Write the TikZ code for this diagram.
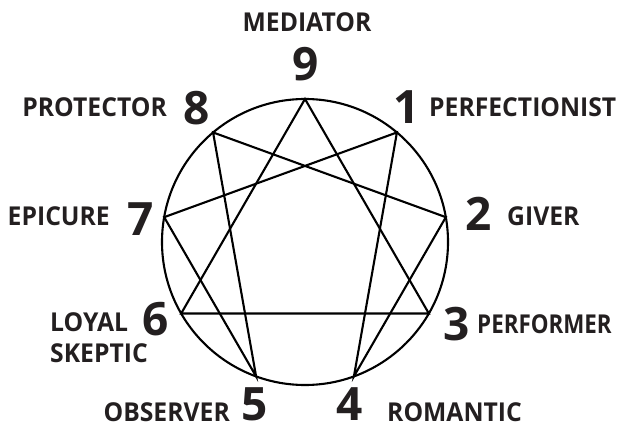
\documentclass[tikz,border=0pt]{standalone}
\usepackage{fontspec}
\usetikzlibrary{calc}
\setmainfont{Open Sans}
\newfontfamily\labfont[FakeStretch=0.95]{Open Sans}
\newfontfamily\labfontn[FakeStretch=0.86]{Open Sans}
\definecolor{ink}{HTML}{231F20}
\begin{document}
\begin{tikzpicture}[x=1pt,y=-1pt,
  digit/.style={font=\fontsize{46}{46}\selectfont\bfseries, text=ink, inner sep=0pt},
  lab/.style={font=\labfont\fontsize{26}{31}\selectfont\bfseries, text=ink, inner sep=0pt},
  labn/.style={font=\labfontn\fontsize{26}{31}\selectfont\bfseries, text=ink, inner sep=0pt},
  edge/.style={line width=2.1pt, black, line join=miter}]
\useasboundingbox (0,0) rectangle (620,427);
\coordinate (c) at (305,242);
\foreach \k in {1,...,9} {
  \coordinate (v\k) at ($(c)+({90-40*\k}:143 and -143)$);
}
\draw[edge] (c) circle[radius=143];
\draw[edge] (v9) -- (v3) -- (v6) -- cycle;
\draw[edge] (v1) -- (v4) -- (v2) -- (v8) -- (v5) -- (v7) -- cycle;
% digits
\node[digit] (n9) at (306,64) {9};
\node[digit] (n8) at (197,108) {8};
\node[digit] (n1) at (407,107) {1};
\node[digit] (n7) at (141,219) {7};
\node[digit] (n2) at (479,214) {2};
\node[digit] (n6) at (156,319) {6};
\node[digit] (n3) at (457,324) {3};
\node[digit] (n5) at (255,404) {5};
\node[digit] (n4) at (350,404) {4};
% labels
\node[lab] (l9) at (307,22) {MEDIATOR};
\node[lab,anchor=east] (l8) at (167,107) {PROTECTOR};
\node[lab,anchor=west] (l1) at (429,107) {PERFECTIONIST};
\node[lab,anchor=east] (l7) at (110,216) {EPICURE};
\node[lab,anchor=west] (l2) at (507,216) {GIVER};
\node[lab,anchor=west,align=left] (l6) at (50,338) {LOYAL\\SKEPTIC};
\node[labn,anchor=west] (l3) at (477,324) {PERFORMER};
\node[lab,anchor=east] (l5) at (230,412) {OBSERVER};
\node[lab,anchor=west] (l4) at (387,412) {ROMANTIC};
\end{tikzpicture}
\end{document}
